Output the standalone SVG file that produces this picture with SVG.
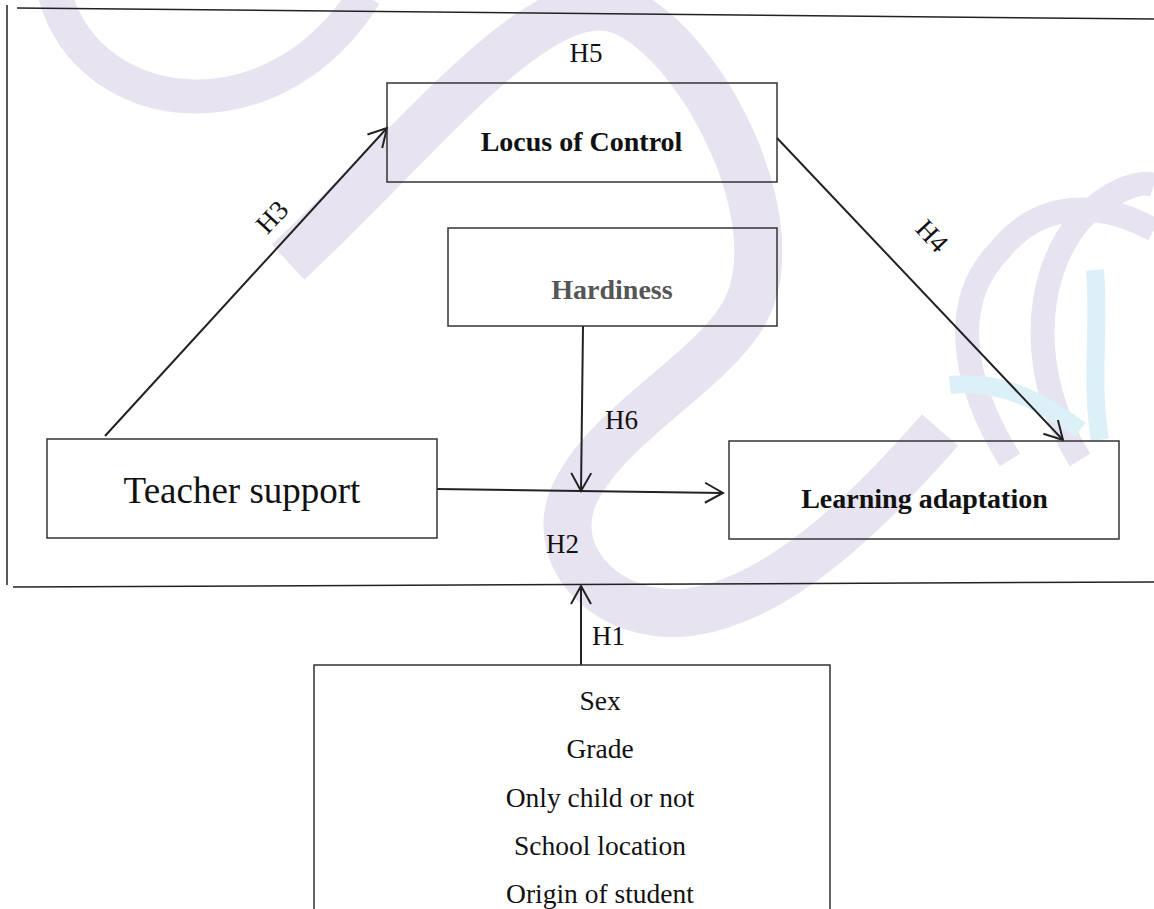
<svg xmlns="http://www.w3.org/2000/svg" width="1154" height="909" viewBox="0 0 1154 909">
<style>
.wm{fill:none;stroke:#e8e3f0;stroke-linecap:butt}
.wc{fill:none;stroke:#dbf0f7;stroke-linecap:butt}
.frame{stroke:#222;stroke-width:1.5;fill:none}
.box{fill:none;stroke:#333;stroke-width:1.5}
.conn{stroke:#222;stroke-width:2;fill:none}
.t{font-family:"Liberation Serif","Times New Roman",serif;fill:#111;text-anchor:middle}
.b{font-weight:bold;font-size:28px}
.lbl{font-family:"Liberation Serif","Times New Roman",serif;fill:#111;font-size:27px}
</style>
<defs>
<marker id="arr" viewBox="-22 -12 24 24" refX="0" refY="0" markerWidth="24" markerHeight="24" markerUnits="userSpaceOnUse" orient="auto">
<path d="M-18,-10 L0,0 L-18,10" fill="none" stroke="#222" stroke-width="2"/>
</marker>
</defs>
<rect width="1154" height="909" fill="#fff"/>
<g id="watermark">
<path class="wm" stroke-width="34" d="M55,-5 C90,120 275,140 365,-5"/>
<path class="wm" stroke-width="48" d="M288,262 C420,140 540,-20 620,10 C700,40 800,230 740,320 C700,380 600,430 572,500 C550,560 610,622 690,612 C780,600 870,510 940,430"/>
<path class="wm" stroke-width="24" d="M1010,460 C960,380 950,300 1000,250 C1040,200 1100,200 1154,230"/>
<path class="wm" stroke-width="24" d="M1080,460 C1030,380 1030,280 1080,220 C1110,190 1140,180 1154,185"/>
<path class="wc" stroke-width="18" d="M950,385 C1000,380 1040,400 1080,430"/>
<path class="wc" stroke-width="18" d="M1095,270 C1100,330 1090,380 1100,440"/>
</g>
<g id="frame">
<line class="frame" x1="17" y1="8" x2="1154" y2="19"/>
<line class="frame" x1="7" y1="5" x2="7" y2="585"/>
<line class="frame" x1="13" y1="587" x2="1154" y2="582"/>
</g>
<g id="connectors">
<line class="conn" x1="105" y1="436" x2="387" y2="128" marker-end="url(#arr)"/>
<line class="conn" x1="777" y1="138" x2="1063" y2="440" marker-end="url(#arr)"/>
<line class="conn" x1="583" y1="326" x2="581" y2="491" marker-end="url(#arr)"/>
<line class="conn" x1="437" y1="489" x2="723" y2="493" marker-end="url(#arr)"/>
<line class="conn" x1="581" y1="665" x2="581" y2="586" marker-end="url(#arr)"/>
<text class="lbl" x="586" y="62" text-anchor="middle">H5</text>
<text class="lbl" text-anchor="middle" transform="translate(272,217) rotate(-47)" y="9">H3</text>
<text class="lbl" text-anchor="middle" transform="translate(932,236) rotate(47)" y="9">H4</text>
<text class="lbl" x="605" y="429">H6</text>
<text class="lbl" x="546" y="553">H2</text>
<text class="lbl" x="592" y="645">H1</text>
</g>
<g id="locus">
<rect class="box" x="387" y="83" width="390" height="99"/>
<text class="t b" x="581.5" y="151">Locus of Control</text>
</g>
<g id="hardiness">
<rect class="box" x="448" y="228" width="329" height="98"/>
<text class="t b" x="612" y="299" style="fill:#555">Hardiness</text>
</g>
<g id="teacher">
<rect class="box" x="47" y="439" width="390" height="99"/>
<text class="t" x="242" y="503" font-size="37">Teacher support</text>
</g>
<g id="learning">
<rect class="box" x="729" y="441" width="390" height="98"/>
<text class="t b" x="924.5" y="508">Learning adaptation</text>
</g>
<g id="demographics">
<rect class="box" x="314" y="665" width="516" height="270"/>
<text class="t" x="600" y="710" font-size="27.5">Sex</text>
<text class="t" x="600" y="758" font-size="27.5">Grade</text>
<text class="t" x="600" y="807" font-size="27.5">Only child or not</text>
<text class="t" x="600" y="855" font-size="27.5">School location</text>
<text class="t" x="600" y="903" font-size="27.5">Origin of student</text>
</g>
</svg>
